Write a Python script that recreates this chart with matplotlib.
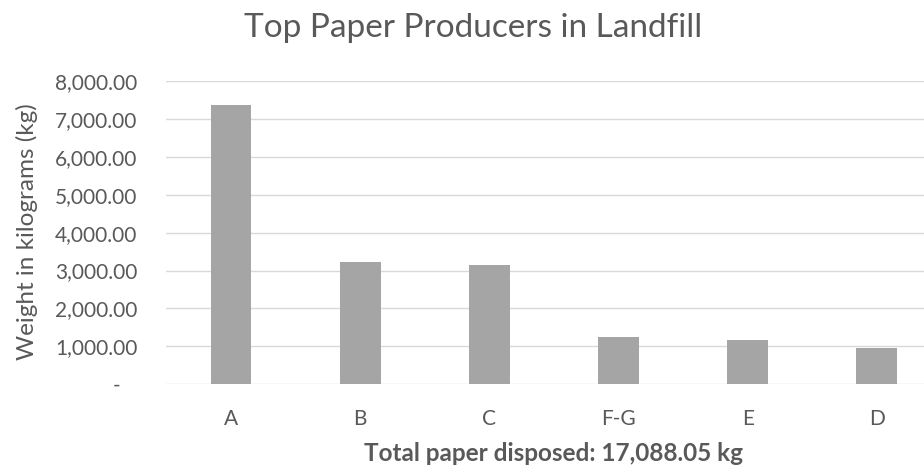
import matplotlib
matplotlib.use('Agg')
import matplotlib.pyplot as plt
from matplotlib.ticker import FuncFormatter

# Data
categories = ['A', 'B', 'C', 'F-G', 'E', 'D']
weights_kg = [7355, 3215, 3145, 1250, 1160, 955]
total_label = 'Total paper disposed: 17,088.05 kg'

text_color = '#595959'
plt.rcParams['font.family'] = ['Lato', 'DejaVu Sans']

W, H = 924, 466
fig = plt.figure(figsize=(W / 100, H / 100), dpi=100)
ax = fig.add_axes([166.4 / W, 1 - 384.3 / H, 775 / W, (384.3 - 81) / H])

x = range(len(categories))
ax.bar(x, weights_kg, width=0.317, color='#a5a5a5', zorder=3)

ax.set_xlim(-0.5, len(categories) - 0.5)
ax.set_ylim(0, 8000)
ax.set_yticks(range(0, 8001, 1000))
ax.yaxis.set_major_formatter(FuncFormatter(lambda v, p: '-   ' if v == 0 else f'{v:,.2f}'))
ax.set_xticks(list(x))
ax.set_xticklabels(categories)

ax.grid(axis='y', color='#d9d9d9', linewidth=1.0, zorder=0)
for s in ax.spines.values():
    s.set_visible(False)
ax.tick_params(axis='y', length=0, pad=21, labelsize=15, labelcolor=text_color)
ax.tick_params(axis='x', length=0, pad=18, labelsize=15, labelcolor=text_color)

fig.text(473 / W, 1 - 37 / H, 'Top Paper Producers in Landfill', ha='center', va='baseline',
         fontsize=24, color=text_color)
fig.text(553 / W, 1 - 461 / H, total_label, ha='center', va='baseline',
         fontsize=17.5, fontweight='bold', color=text_color)
fig.text(27 / W, 1 - 232 / H, 'Weight in kilograms (kg)', ha='center', va='center',
         rotation=90, fontsize=17.5, color=text_color)

fig.savefig('out.png', dpi=100)
